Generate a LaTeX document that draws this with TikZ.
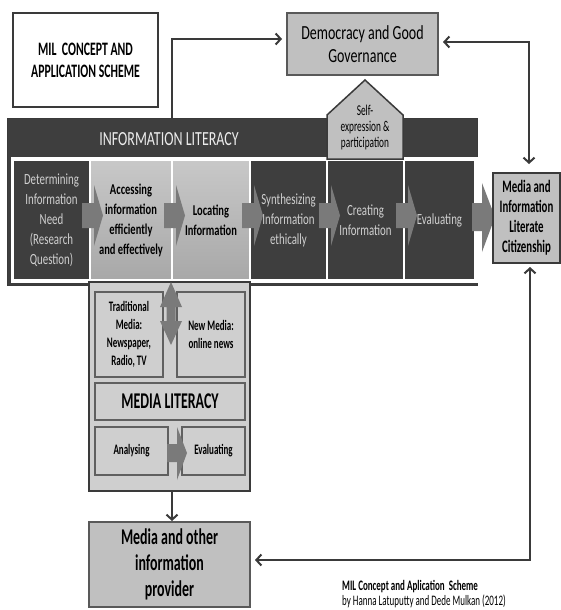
\documentclass[tikz,border=0pt]{standalone}
\usepackage{fontspec}
\setmainfont{Carlito}
\newfontfamily\cf[FakeStretch=0.8]{Carlito}
\newfontfamily\cfn[FakeStretch=0.7]{Carlito}
\newfontfamily\cfx[FakeStretch=0.62]{Carlito}
\usetikzlibrary{arrows.meta,calc}
\definecolor{bandc}{HTML}{3E3E3E}
\definecolor{boxg}{HTML}{C0C0C0}
\definecolor{panelg}{HTML}{CFCFCF}
\definecolor{linec}{HTML}{3A3A3A}
\definecolor{chevc}{HTML}{7A7A7A}
\definecolor{darktext}{HTML}{D0D0D0}
\definecolor{lighttop}{HTML}{C8C8C8}
\definecolor{lightbot}{HTML}{A8A8A8}
\newcommand\mychev[1]{\fill[chevc] (#1-8,203) -- (#1+4,203) -- (#1+4,185) -- (#1+13,215.5) -- (#1+4,246) -- (#1+4,228) -- (#1-8,228) -- cycle;}
\begin{document}
\begin{tikzpicture}[x=1pt,y=-1pt,
  rbox/.style={anchor=north west,inner sep=0pt,outer sep=0pt,align=center},
  graybox/.style={rbox,fill=boxg,draw=#1,line width=2pt},
  darkcell/.style={rbox,fill=bandc,draw=white,line width=1.5pt,text=darktext,font=\cfn\fontsize{15.5}{20}\selectfont},
  lightcell/.style={rbox,top color=lighttop,bottom color=lightbot,draw=white,line width=1.5pt,font=\cfn\bfseries\fontsize{15}{20}\selectfont},
  inbox/.style={rbox,fill=panelg,draw=gray!75!black,line width=1.2pt,font=\cfx\bfseries\fontsize{14.5}{18}\selectfont},
  conn/.style={draw=linec,line width=2pt},
  tip/.tip={Straight Barb[length=5pt,width=11pt,line width=2pt]}
]
\useasboundingbox (0,0) rectangle (561,610);
\fill[white] (0,0) rectangle (561,610);
% title
\node[rbox,draw=linec,line width=1.5pt,fill=white,minimum width=145,minimum height=94,font=\cfx\bfseries\fontsize{19}{22}\selectfont] (title) at (13,13) {MIL\ \ CONCEPT AND\\APPLICATION SCHEME};
% democracy
\node[graybox=gray!70!black,minimum width=151,minimum height=62,font=\cfn\fontsize{20}{23}\selectfont] (dem) at (287,13) {Democracy and Good\\Governance};
% band
\node[rbox,fill=bandc,draw=linec,line width=1pt,minimum width=470,minimum height=167] (band) at (7,118) {};
\node[text=white!92!black,font=\cfn\fontsize{20}{20}\selectfont] (iltitle) at (169,139) {INFORMATION LITERACY};
\node[rbox,draw=white,line width=1.5pt,minimum width=465,minimum height=124] (row) at (12,158) {};
\node[darkcell,minimum width=77,minimum height=120] (b1) at (13,160) {Determining\\Information\\Need\\(Research\\Question)};
\node[lightcell,minimum width=82,minimum height=120] (b2) at (90,160) {Accessing\\information\\efficiently\\and effectively};
\node[lightcell,minimum width=78,minimum height=120] (b3) at (172,160) {Locating\\Information};
\node[darkcell,minimum width=77,minimum height=120] (b4) at (250,160) {Synthesizing\\Information\\ethically};
\node[darkcell,minimum width=77,minimum height=120] (b5) at (327,160) {Creating\\Information};
\node[darkcell,minimum width=71,minimum height=120] (b6) at (404,160) {Evaluating};
% chevrons
\mychev{90}\mychev{172}\mychev{250}\mychev{327}\mychev{404}
\fill[chevc] (472,203) -- (482,203) -- (482,183) -- (495,217) -- (482,252) -- (482,231) -- (472,231) -- cycle;
% pentagon
\filldraw[fill=boxg,draw=linec,line width=1.5pt] (365,80) -- (403,115) -- (403,159) -- (327,159) -- (327,115) -- cycle;
\node[align=center,font=\cfx\fontsize{15}{16}\selectfont] (self) at (365,127) {Self-\\expression \&\\participation};
% citizenship
\node[graybox=linec,line width=2.5pt,minimum width=67,minimum height=90,font=\cfx\bfseries\fontsize{17.5}{20}\selectfont] (cit) at (493,173) {Media and\\Information\\Literate\\Citizenship};
% media literacy panel
\node[rbox,fill=panelg,draw=linec,line width=2pt,minimum width=161,minimum height=209] (media) at (89,282) {};
\node[inbox,minimum width=68,minimum height=85] (trad) at (95,292) {Traditional\\Media:\\Newspaper,\\Radio, TV};
\node[inbox,minimum width=68,minimum height=85] (newm) at (177,292) {New Media:\\online news};
\node[inbox,minimum width=150,minimum height=37,font=\cfx\bfseries\fontsize{22.5}{20}\selectfont] (ml) at (95,383) {MEDIA LITERACY};
\node[inbox,minimum width=73,minimum height=48] (ana) at (95,427) {Analysing};
\node[inbox,minimum width=63,minimum height=48] (eva) at (182,427) {Evaluating};
\fill[chevc] (171,282) -- (182,307) -- (175.5,307) -- (175.5,321) -- (182,321) -- (171,345) -- (160,321) -- (166.5,321) -- (166.5,307) -- (160,307) -- cycle;
\fill[chevc] (167,444) -- (177,444) -- (177,427) -- (187,453) -- (177,480) -- (177,462) -- (167,462) -- cycle;
% provider
\node[graybox=gray!70!black,minimum width=161,minimum height=85,font=\cfx\bfseries\fontsize{22.5}{26}\selectfont] (prov) at (89,522) {Media and other\\information\\provider};
% caption
\node[anchor=west,inner sep=0pt,font=\cfx\bfseries\fontsize{14.5}{13}\selectfont] (cap1) at (342,587) {MIL Concept and Aplication\ \ Scheme};
\node[anchor=west,inner sep=0pt,font=\cfx\fontsize{14.5}{13}\selectfont] (cap2) at (342,601) {by Hanna Latuputty and Dede Mulkan (2012)};
% connectors
\coordinate (ba) at (172,118);
\coordinate (dl) at (172,39);
\coordinate (tr) at (529,42);
\coordinate (br) at (530,560);
\draw[conn,-tip,shorten >=5pt] (ba) -- (dl) -- (dl -| dem.west);
\draw[conn,tip-tip,shorten <=5pt,shorten >=9pt] (dem.east |- tr) -- (tr) -- (tr |- cit.north);
\draw[conn,tip-tip,shorten <=5pt,shorten >=4pt] (prov.east |- br) -- (br) -- (br |- cit.south);
\draw[conn,-tip,line width=1.6pt,shorten >=1pt] (media.south -| ba) -- (prov.north -| ba);
\end{tikzpicture}
\end{document}
